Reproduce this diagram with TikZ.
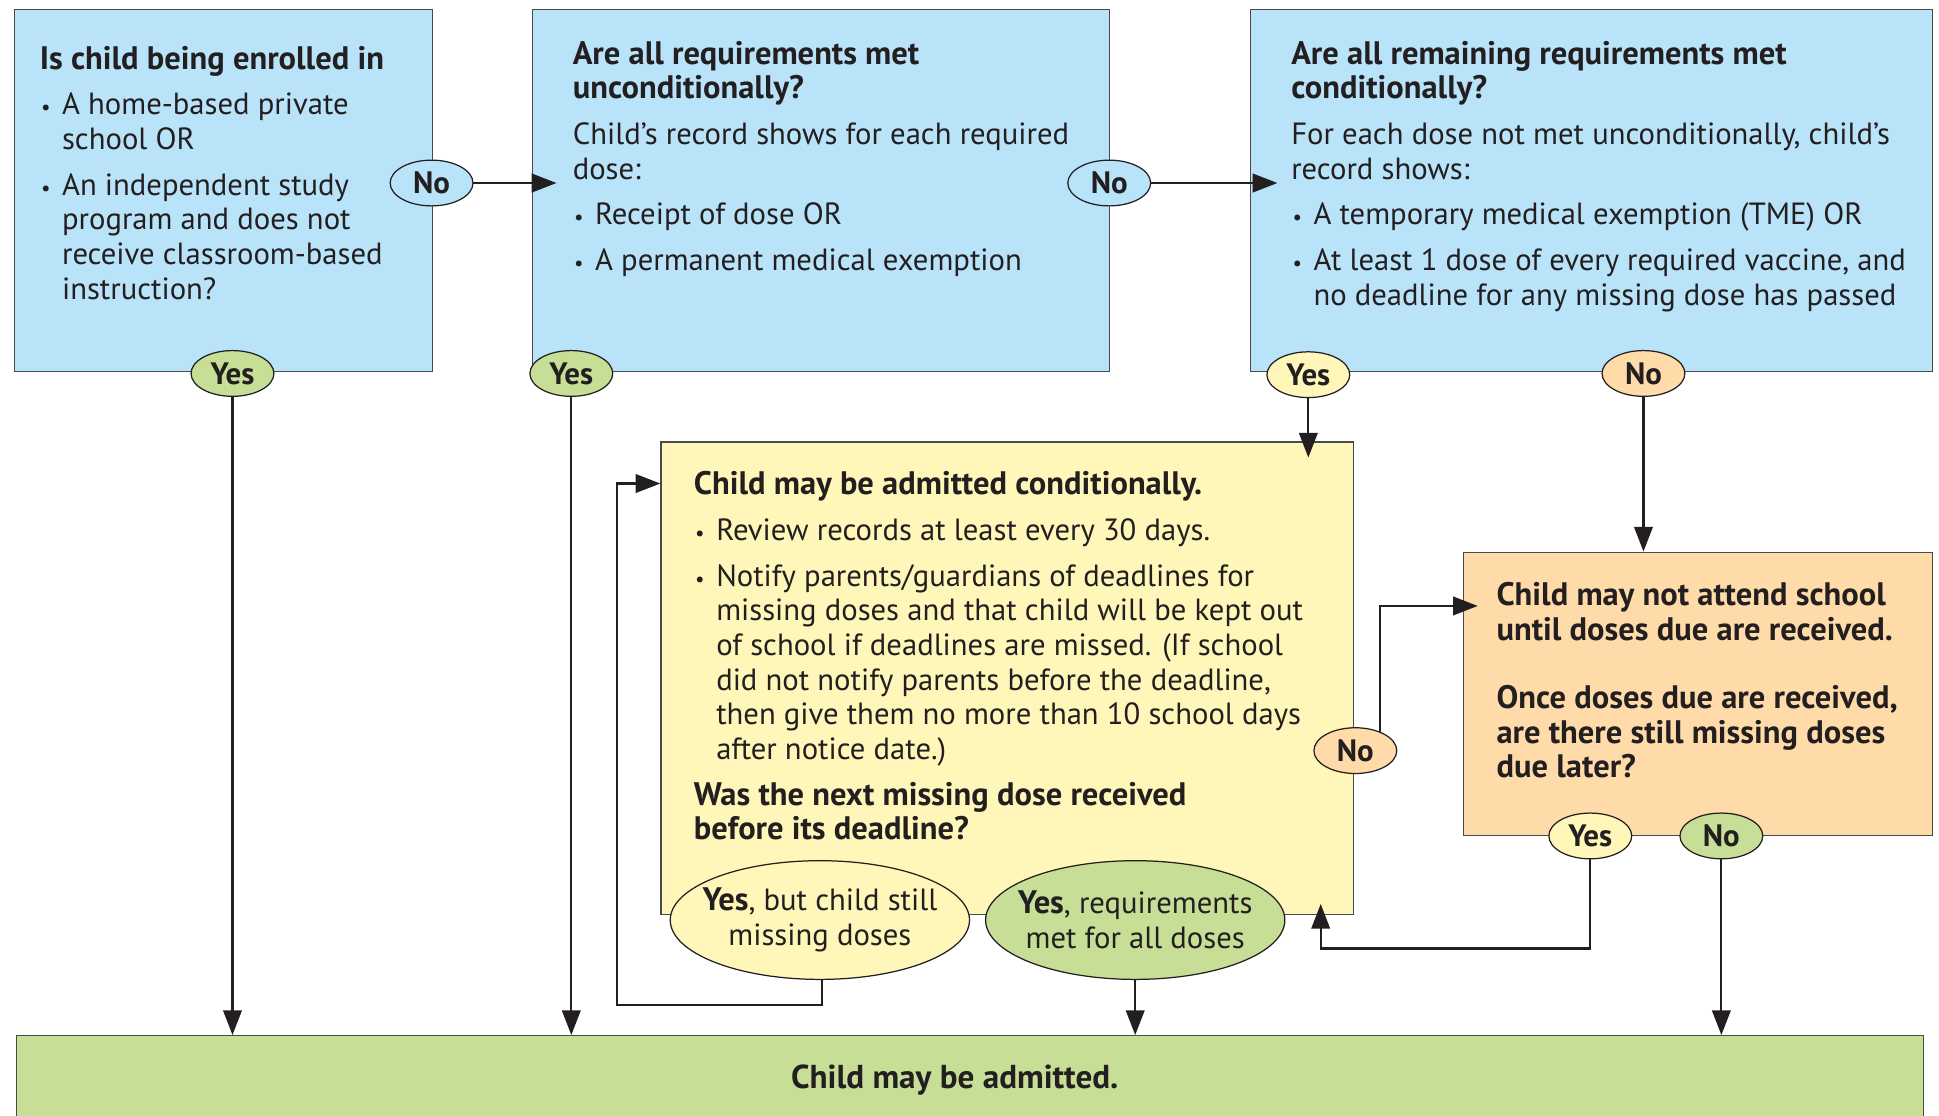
\documentclass[tikz,border=0pt]{standalone}
\usepackage{fontspec}
\setmainfont{PT Sans}
\usetikzlibrary{shapes.geometric,arrows.meta}
\definecolor{cblue}{HTML}{B9E3F8}
\definecolor{cgreen}{HTML}{C6DE95}
\definecolor{cyellow}{HTML}{FEF7B9}
\definecolor{corange}{HTML}{FEDBA8}
\definecolor{cink}{HTML}{231F20}
\definecolor{cborder}{HTML}{4A4A4A}
\newcommand{\hb}[1]{{\fontsize{26.3}{28}\selectfont\bfseries #1}}
\newcommand{\pgap}{\par\vspace{9pt}}
\newcommand{\bitem}[1]{\par\vspace{9pt}\hangindent=18pt\hangafter=1\noindent\makebox[18pt][l]{\hspace{1pt}{\fontsize{17}{17}\selectfont\textbullet}}{\let\\\newline #1}}
\newcommand{\tblock}[1]{\parbox[t]{620pt}{\raggedright #1}}
\tikzset{
  box/.style={draw=cborder, line width=1pt, anchor=north west, inner sep=0pt},
  txt/.style={anchor=north west, inner sep=0pt, text=cink,
    font=\fontsize{24.8}{28}\selectfont},
  lab/.style={ellipse, draw=cink, line width=1pt, inner sep=0pt, minimum width=67pt,
    minimum height=37pt, text=cink, font=\bfseries\fontsize{25}{26}\selectfont},
  big/.style={ellipse, draw=cink, line width=1pt, inner xsep=-14pt, inner ysep=0pt, minimum width=242pt,
    minimum height=96pt, text=cink, align=center, font=\fontsize{24.8}{28}\selectfont},
  arr/.style={draw=cink, line width=1.8pt, -{Triangle[length=20pt,width=15pt]}}
}
\begin{document}
\begin{tikzpicture}[x=1pt,y=-1pt]
\useasboundingbox (0,0) rectangle (1568,902.4);
% boxes
\node[box, fill=cblue, minimum width=338pt, minimum height=293pt] (q1) at (11,7) {};
\node[box, fill=cblue, minimum width=467pt, minimum height=293pt] (q2) at (430,7) {};
\node[box, fill=cblue, minimum width=551pt, minimum height=293pt] (q3) at (1011,7) {};
\node[box, fill=cyellow, minimum width=560pt, minimum height=382pt] (cond) at (534,357) {};
\node[box, fill=corange, minimum width=379pt, minimum height=229pt] (nat) at (1183,446) {};
\node[box, fill=cgreen, minimum width=1542pt, minimum height=90pt] (fin) at (13,837) {};
% texts
\node[txt] (t1) at (32,37) {\tblock{\hb{Is child being enrolled in}
\bitem{A home-based private\\school OR}
\bitem{An independent study\\program and does not\\receive classroom-based\\instruction?}}};
\node[txt] (t2) at (463,33) {\tblock{\hb{Are all requirements met\\unconditionally?}\pgap
Child’s record shows for each required\\dose:
\bitem{Receipt of dose OR}
\bitem{A permanent medical exemption}}};
\node[txt] (t3) at (1044,33) {\tblock{\hb{Are all remaining requirements met\\conditionally?}\pgap
For each dose not met unconditionally, child’s\\record shows:
\bitem{A temporary medical exemption (TME) OR}
\bitem{At least 1 dose of every required vaccine, and\\no deadline for any missing dose has passed}}};
\node[txt] (t4) at (561,381) {\tblock{\hb{Child may be admitted conditionally.}
\bitem{Review records at least every 30 days.}
\bitem{Notify parents/guardians of deadlines for\\missing doses and that child will be kept out\\of school if deadlines are missed. (If school\\did not notify parents before the deadline,\\then give them no more than 10 school days\\after notice date.)}\pgap
\hb{Was the next missing dose received\\before its deadline?}}};
\node[txt] (t5) at (1210,471) {\tblock{\hb{Child may not attend school\\until doses due are received.}\par\vspace{27pt}
\hb{Once doses due are received,\\are there still missing doses\\due later?}}};
\node[text=cink, font=\bfseries\fontsize{26.8}{28}\selectfont, inner sep=0pt] (t6) at (772,873) {Child may be admitted.};
% label positions
\coordinate (pno1) at (349,148);
\coordinate (pyes1) at (188,302);
\coordinate (pyes2) at (462,302);
\coordinate (pno2) at (897,148);
\coordinate (pyes3) at (1058,303);
\coordinate (pno3) at (1329,302);
\coordinate (pno4) at (1096,607);
\coordinate (pyes4) at (1286,676);
\coordinate (pno5) at (1392,676);
\coordinate (pmiss) at (663,744);
\coordinate (pall) at (918,744);
% connectors
\draw[arr] (pno1) -- ([xshift=20pt]q2.west |- pno1);
\draw[arr] (pno2) -- ([xshift=22pt]q3.west |- pno2);
\draw[arr] (pyes1) -- (pyes1 |- fin.north);
\draw[arr] (pyes2) -- (pyes2 |- fin.north);
\draw[arr] (pyes3) -- ([yshift=-13pt]pyes3 |- cond.north);
\draw[arr] (pno3) -- (pno3 |- nat.north);
\draw[arr] (pall) -- (pall |- fin.north);
\draw[arr] (pno5) -- (pno5 |- fin.north);
\draw[arr] ([xshift=20pt]pno4) |- ([xshift=12pt,yshift=-44pt]nat.north west);
\draw[arr] (pyes4) -- ++(0,91) -| ([xshift=-27pt,yshift=9pt]cond.south east);
\draw[arr] ([xshift=2pt]pmiss) -- ++(0,69) -- ++(-166,0) |- ([yshift=-34pt]cond.north west);
% labels
\node[lab, fill=cblue] (no1) at (pno1) {No};
\node[lab, fill=cgreen] (yes1) at (pyes1) {Yes};
\node[lab, fill=cgreen] (yes2) at (pyes2) {Yes};
\node[lab, fill=cblue] (no2) at (pno2) {No};
\node[lab, fill=cyellow] (yes3) at (pyes3) {Yes};
\node[lab, fill=corange] (no3) at (pno3) {No};
\node[lab, fill=corange] (no4) at (pno4) {No};
\node[lab, fill=cyellow] (yes4) at (pyes4) {Yes};
\node[lab, fill=cgreen] (no5) at (pno5) {No};
\node[big, fill=cyellow] (miss) at (pmiss) {\hb{Yes}, but child still\\missing doses};
\node[big, fill=cgreen] (all) at (pall) {\hb{Yes}, requirements\\met for all doses};
\end{tikzpicture}
\end{document}
